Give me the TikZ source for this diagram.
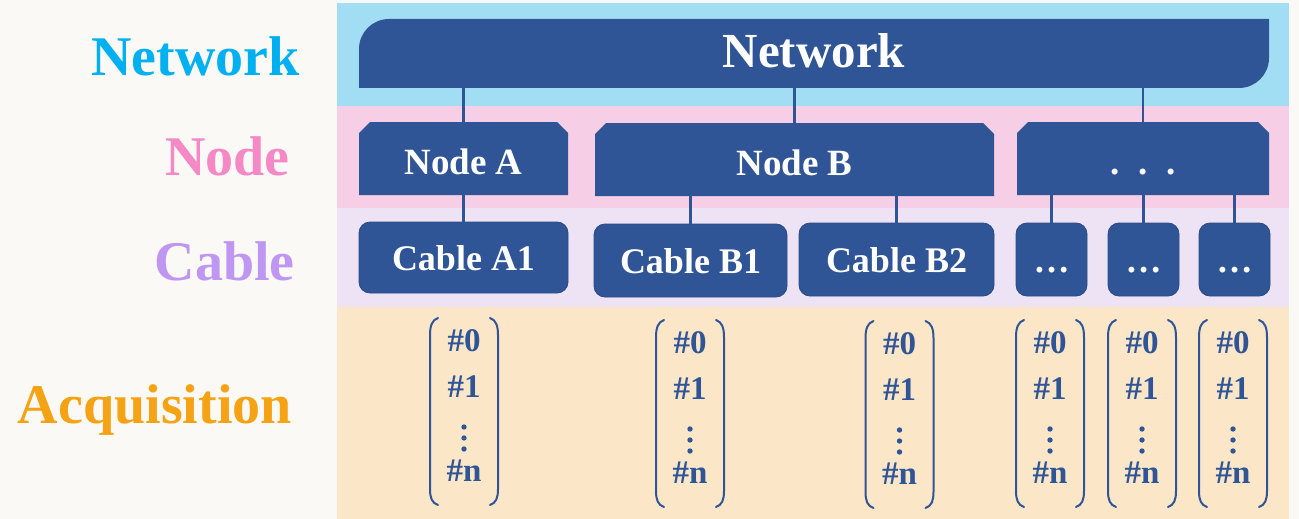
\documentclass[tikz,border=0pt]{standalone}
\usepackage{fontspec}
\setmainfont{Liberation Serif}
\usetikzlibrary{calc}
\definecolor{bgc}{HTML}{FAF9F6}
\definecolor{netband}{HTML}{A2DEF3}
\definecolor{nodeband}{HTML}{F6CEE5}
\definecolor{cableband}{HTML}{EDE3F5}
\definecolor{acqband}{HTML}{FBE7C8}
\definecolor{boxblue}{HTML}{2F5597}
\definecolor{boxedge}{HTML}{2A4A86}
\definecolor{labnet}{HTML}{00B0F0}
\definecolor{labnode}{HTML}{F489C6}
\definecolor{labcable}{HTML}{BF97F3}
\definecolor{labacq}{HTML}{F5A314}
\tikzset{
  layerlabel/.style={anchor=base east, inner sep=0pt, font=\bfseries\fontsize{56}{60}\selectfont},
  boxtext/.style={inner sep=0pt, outer sep=0pt, text=white, text depth=0pt},
  netbox/.style={boxtext, fill=netband, text height=28pt,
    font=\bfseries\fontsize{49}{52}\selectfont,
    path picture={\fill[boxblue]
      (path picture bounding box.south west)
      -- ([yshift=-30pt]path picture bounding box.north west)
      .. controls ([yshift=-13.4pt]path picture bounding box.north west) and ([xshift=13.4pt]path picture bounding box.north west) ..
      ([xshift=30pt]path picture bounding box.north west)
      -- (path picture bounding box.north east)
      -- ([yshift=30pt]path picture bounding box.south east)
      .. controls ([yshift=13.4pt]path picture bounding box.south east) and ([xshift=-13.4pt]path picture bounding box.south east) ..
      ([xshift=-30pt]path picture bounding box.south east)
      -- cycle;}},
  nodebox/.style={boxtext, fill=nodeband, text height=31pt,
    font=\bfseries\fontsize{37}{40}\selectfont,
    path picture={\fill[boxblue]
      (path picture bounding box.south west)
      -- ([yshift=-11pt]path picture bounding box.north west)
      -- ([xshift=11pt]path picture bounding box.north west)
      -- ([xshift=-11pt]path picture bounding box.north east)
      -- ([yshift=-11pt]path picture bounding box.north east)
      -- (path picture bounding box.south east) -- cycle;}},
  cablebox/.style={boxtext, fill=boxblue, draw=boxedge, line width=0.8pt,
    rounded corners=11pt, text height=25pt,
    font=\bfseries\fontsize{36}{40}\selectfont},
  conn/.style={draw=boxblue, line width=2.6pt},
  acqtext/.style={anchor=base, inner sep=0pt, text=boxblue,
    font=\bfseries\fontsize{33}{36}\selectfont},
  paren/.style={draw=boxblue, line width=2pt, line cap=round},
}
% #1 name, #2 centre x, #3 baseline of first entry
\newcommand\acqcolumn[3]{%
  \node[acqtext] (#1-0) at (#2,#3) {\#0};
  \node[acqtext] (#1-1) at (#2,#3+46) {\#1};
  \node[acqtext] (#1-n) at (#2,#3+130) {\#n};
  \fill[boxblue] (#2,#3+76) circle[radius=2.7pt]
                 (#2,#3+87) circle[radius=2.7pt]
                 (#2,#3+98) circle[radius=2.7pt];
  \draw[paren] (#2-26,#3-33) .. controls (#2-32,#3-31) and (#2-34,#3-25) .. (#2-34,#3-16)
     -- (#2-34,#3+138) .. controls (#2-34,#3+147) and (#2-32,#3+152) .. (#2-26,#3+154);
  \draw[paren] (#2+26,#3-33) .. controls (#2+32,#3-31) and (#2+34,#3-25) .. (#2+34,#3-16)
     -- (#2+34,#3+138) .. controls (#2+34,#3+147) and (#2+32,#3+152) .. (#2+26,#3+154);
}
\begin{document}
\begin{tikzpicture}[x=1pt,y=-1pt]
\useasboundingbox (0,0) rectangle (1299,519);
\fill[bgc] (0,0) rectangle (1299,519);
% bands
\fill[netband]   (337,3)   rectangle (1289,106);
\fill[nodeband]  (337,106) rectangle (1289,208);
\fill[cableband] (337,208) rectangle (1289,307);
\fill[acqband]   (337,307) rectangle (1289,519);
% layer labels
\node[layerlabel, text=labnet]   (lnet)   at (300,75)  {Network};
\node[layerlabel, text=labnode]  (lnode)  at (290,175) {Node};
\node[layerlabel, text=labcable] (lcable) at (295,280) {Cable};
\node[layerlabel, text=labacq]   (lacq)   at (292,423) {Acquisition};
% network
\node[netbox, minimum width=910pt, minimum height=69pt] (net) at (814,53.5) {Network};
% nodes
\node[nodebox, minimum width=209pt, minimum height=73pt] (nA) at (463.5,158.5) {Node A};
\node[nodebox, minimum width=399pt, minimum height=73pt] (nB) at (794.5,159.5) {Node B};
\node[nodebox, minimum width=252pt, minimum height=73pt] (nX) at (1143,158.5) {.\ \ .\ \ .};
% cables
\node[cablebox, minimum width=209pt, minimum height=71pt] (cA1) at (463.5,257.5) {Cable A1};
\node[cablebox, minimum width=193pt, minimum height=73pt] (cB1) at (690.5,260.5) {Cable B1};
\node[cablebox, minimum width=195pt, minimum height=73pt] (cB2) at (896.5,259.5) {Cable B2};
\node[cablebox, minimum width=71pt, minimum height=73pt] (cX1) at (1051.5,259.5) {…};
\node[cablebox, minimum width=71pt, minimum height=73pt] (cX2) at (1143.5,259.5) {…};
\node[cablebox, minimum width=71pt, minimum height=73pt] (cX3) at (1234.5,259.5) {…};
% connectors
\draw[conn] (net.south -| nA.north) -- (nA.north);
\draw[conn] (net.south -| nB.north) -- (nB.north);
\draw[conn] (net.south -| nX.north) -- (nX.north);
\draw[conn] (nA.south) -- (cA1.north);
\draw[conn] (nB.south -| cB1.north) -- (cB1.north);
\draw[conn] (nB.south -| cB2.north) -- (cB2.north);
\draw[conn] (nX.south -| cX1.north) -- (cX1.north);
\draw[conn] (nX.south -| cX2.north) -- (cX2.north);
\draw[conn] (nX.south -| cX3.north) -- (cX3.north);
% acquisition columns
\acqcolumn{aA1}{464}{351}
\acqcolumn{aB1}{690}{353}
\acqcolumn{aB2}{899.5}{354}
\acqcolumn{aX1}{1050}{353}
\acqcolumn{aX2}{1142}{353}
\acqcolumn{aX3}{1233}{353}
\end{tikzpicture}
\end{document}
